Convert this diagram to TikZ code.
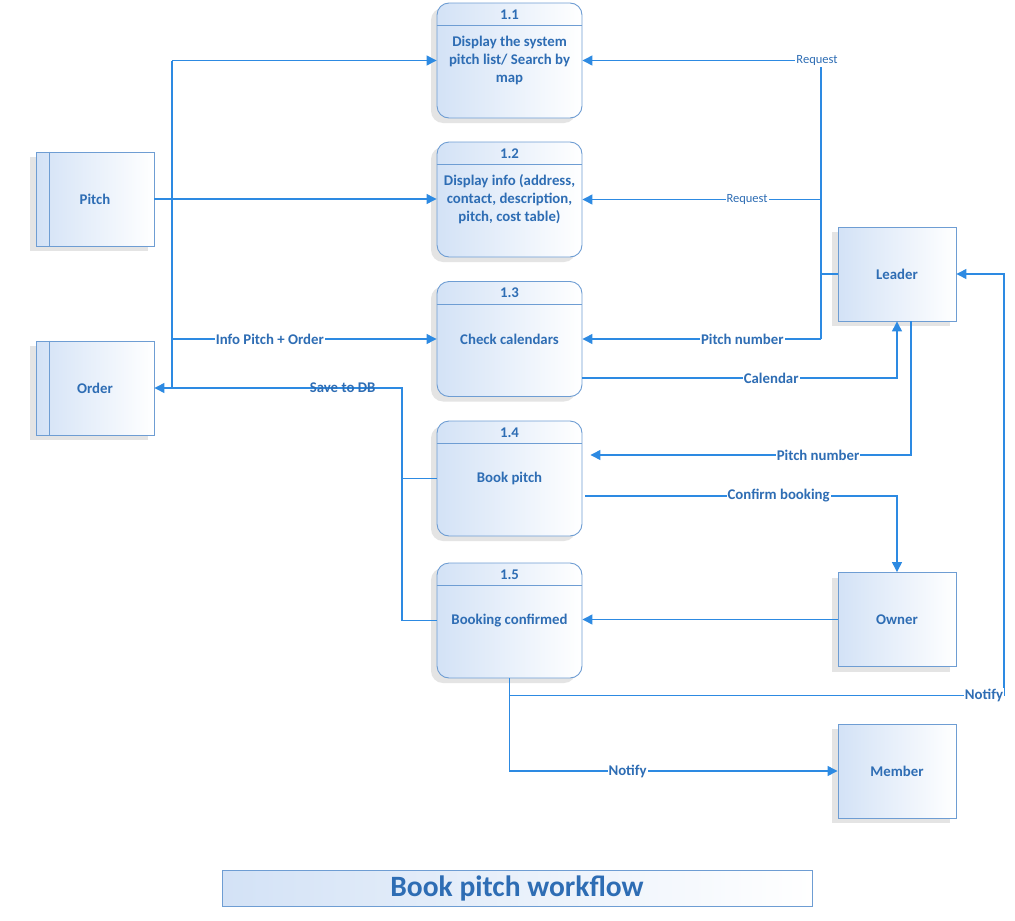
\documentclass[tikz,border=0pt]{standalone}
\usepackage{fontspec}
\setmainfont{Carlito}
\usetikzlibrary{arrows.meta,positioning,calc,shadows}
\definecolor{ink}{HTML}{2E6DB4}
\definecolor{arrowblue}{HTML}{2D8AE2}
\definecolor{rim}{HTML}{6E9DD3}
\definecolor{tint}{HTML}{D3E2F6}

\begin{document}
\begin{tikzpicture}[x=1pt,y=-1pt,>={Triangle[length=10pt,width=10pt]},
  every node/.style={font=\bfseries\fontsize{14.8}{18}\selectfont,text=ink},
  boxed/.style={draw=rim,line width=.9pt,left color=tint,right color=white,
    drop shadow={shadow xshift=-6pt,shadow yshift=-5pt,opacity=.15,fill=black!70}},
  proc/.style={boxed,rounded corners=12pt,minimum width=145pt,minimum height=115pt,align=center},
  store/.style={boxed,minimum width=118pt,minimum height=94pt},
  ent/.style={boxed,minimum width=118pt,minimum height=94pt},
  flow/.style={->,arrowblue,line width=1.3pt},
  link/.style={arrowblue,line width=1.3pt},
  lbl/.style={fill=white,inner sep=1pt},
  thin/.style={lbl,font=\fontsize{12.5}{14}\selectfont}]
\path[use as bounding box] (0,0) rectangle (1015,921);

% processes
\foreach \n/\y/\t in {1/60.5/{Display the system\\pitch list/ Search by\\map},
    2/199.5/{Display info (address,\\contact, description,\\pitch, cost table)},
    3/339/{Check calendars},4/478.5/{Book pitch},5/620.5/{Booking confirmed}}{
  \node[proc] (p\n) at (509.5,\y) {\t};
  \draw[rim,line width=.9pt] ($(p\n.north west)+(0,23)$) -- ($(p\n.north east)+(0,23)$);
  \node (n\n) at ($(p\n.north)+(0,12)$) {1.\n};
}

% stores and entities
\node[store] (pitch) at (95,199) {Pitch};
\node[store] (order) at (95,388) {Order};
\foreach \s in {pitch,order}
  \draw[rim,line width=.9pt] ($(\s.north west)+(14,0)$) -- ($(\s.south west)+(14,0)$);
\node[ent] (leader) at (897,274) {Leader};
\node[ent] (owner) at (897,619.5) {Owner};
\node[ent] (member) at (897,771) {Member};

\node[draw=rim,line width=.9pt,left color=tint,right color=white,minimum width=590pt,minimum height=36pt,
  font=\bfseries\fontsize{29.5}{32}\selectfont] (title) at (517,888) {Book pitch workflow};

% left side
\coordinate (lbus) at (172,0);
\coordinate (sbus) at (402,0);
\draw[flow] (pitch.east) -- (pitch.east -| p2.west);
\draw[link] (order.east -| lbus) -- (p1.west -| lbus);
\draw[flow] (p1.west -| lbus) -- (p1.west);
\draw[flow] (p3.west -| lbus) -- node[lbl,pos=.37]{Info Pitch + Order} (p3.west);
\draw[link] (p4.west) -- (p4.west -| sbus);
\draw[flow] (p5.west) -- (p5.west -| sbus) -- (sbus |- order.east) -- node[pos=.24]{Save to DB} (order.east);

% right side
\coordinate (rbus) at (821,0);
\coordinate (nbus) at (1004,0);
\draw[link] (leader.west) -- (leader.west -| rbus);
\draw[flow] (rbus |- p3.east) -- (rbus |- p1.east) node[thin,xshift=-4pt]{Request} -- (p1.east);
\draw[flow] (rbus |- p2.east) -- node[thin,pos=.31]{Request} (p2.east);
\draw[flow] (rbus |- p3.east) -- node[lbl,pos=.33]{Pitch number} (p3.east);
\draw[flow] ([yshift=-39pt]p3.east) -| node[lbl,pos=.3]{Calendar} (leader.south);
\draw[flow] ([xshift=14pt]leader.south) |- node[lbl,pos=.645]{Pitch number} ([xshift=8pt,yshift=23.5pt]p4.east);
\draw[flow] ([xshift=3pt,yshift=-17.5pt]p4.east) -| node[lbl,pos=.31]{Confirm booking} (owner.north);
\draw[flow] (owner.west) -- (owner.west -| p5.east);
\draw[flow] (p5.south) |- node[lbl,pos=.68]{Notify} (member.west);
\coordinate (n5) at ([yshift=-17pt]p5.south);
\draw[flow] (n5) -- (n5 -| nbus) node[lbl,xshift=-20pt]{Notify} |- (leader.east);

\end{tikzpicture}
\end{document}
